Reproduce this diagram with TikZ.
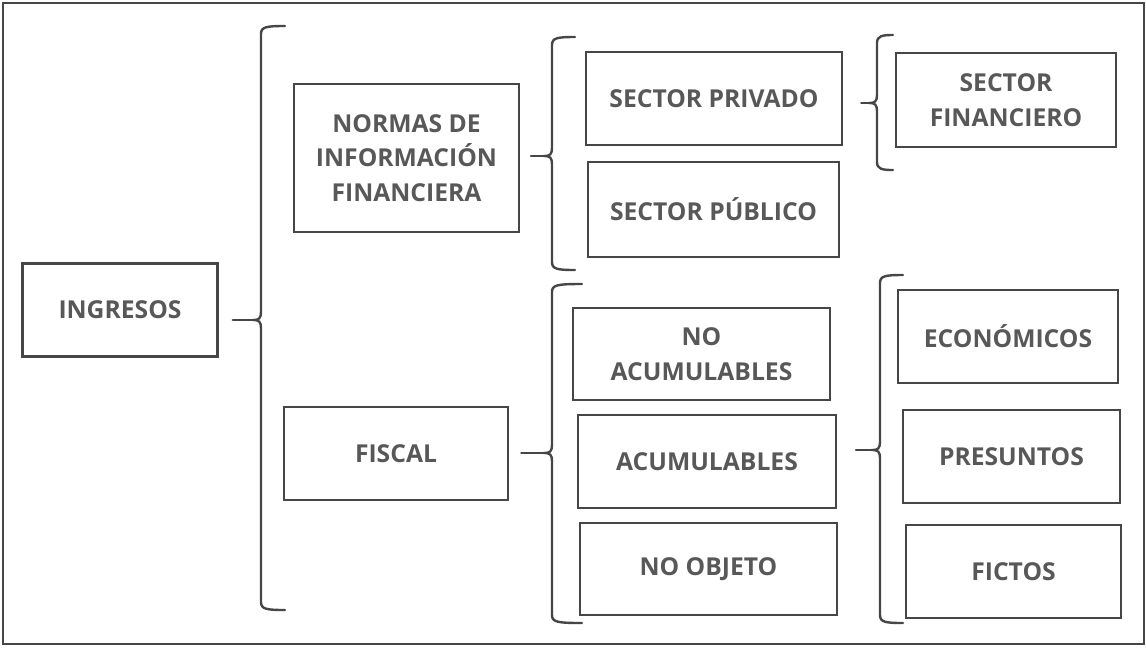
\documentclass[tikz,border=0pt]{standalone}
\usepackage{fontspec}
\setmainfont{Open Sans}

\definecolor{framegray}{RGB}{70,70,70}
\definecolor{textgray}{RGB}{88,88,88}

\tikzset{every picture/.style={line width=0.75pt}}
\tikzset{
  conceptbox/.style 2 args={draw=framegray, line width=2pt, rectangle, align=center,
    minimum width=#1*0.75pt, minimum height=#2*0.75pt, inner sep=0pt,
    text=textgray, font=\fontsize{18.5}{26}\selectfont\bfseries},
  bracket/.style={draw=framegray, line width=1.8pt, line cap=round}
}

% curly bracket: name, x, top, middle, bottom, tip length
\newcommand{\drawbracket}[6]{%
  \draw [bracket] (#2+#6,#3) .. controls (#2+5,#3) and (#2,#3+1) .. (#2,#3+8) -- (#2,#4-8) .. controls (#2,#4-2) and (#2-2,#4) .. (#2-7,#4) .. controls (#2-2,#4) and (#2,#4+2) .. (#2,#4+8) -- (#2,#5-8) .. controls (#2,#5-1) and (#2+5,#5) .. (#2+#6,#5) ;
  \coordinate (#1) at (#2-7,#4);
}

\begin{document}
\begin{tikzpicture}[x=0.75pt,y=0.75pt,yscale=-1,xscale=1]
\useasboundingbox (0,0) rectangle (1146,647);

%Outer frame
\draw [draw=framegray, line width=1.8pt] (3,3) rectangle (1144,644);

% Boxes
\node [conceptbox={195}{93}] (ingresos) at (120,310) {INGRESOS};
\node [conceptbox={225}{148}] (normas) at (406.5,158) {NORMAS DE\\INFORMACIÓN\\FINANCIERA};
\node [conceptbox={224}{93}] (fiscal) at (396,453.5) {FISCAL};
\node [conceptbox={256}{93}] (privado) at (714,98.5) {SECTOR PRIVADO};
\node [conceptbox={251}{95}] (publico) at (713.5,209.5) {SECTOR PÚBLICO};
\node [conceptbox={220}{94}] (financiero) at (1006,100) {SECTOR\\FINANCIERO};
\node [conceptbox={257}{92}] (noacum) at (701.5,354) {NO\\ACUMULABLES};
\node [conceptbox={258}{93}] (acum) at (707,461.5) {ACUMULABLES};
\node [conceptbox={257}{92}] (noobjeto) at (708.5,569) {NO OBJETO};
\node [conceptbox={220}{93}] (economicos) at (1008,336.5) {ECONÓMICOS};
\node [conceptbox={217}{93}] (presuntos) at (1011.5,456.5) {PRESUNTOS};
\node [conceptbox={215}{93}] (fictos) at (1013.5,571.5) {FICTOS};

% Brackets
\drawbracket{b1}{261}{26}{320}{610}{24}
\drawbracket{b2}{552}{37}{156}{270}{23}
\drawbracket{b3}{877}{35}{103}{170}{16}
\drawbracket{b4}{552}{284}{453}{623}{30}
\drawbracket{b5}{880}{275}{450}{623}{23}

% Stems
\draw [bracket, shorten <=10.5pt] (ingresos.east |- b1) -- (b1) ;
\draw [bracket, shorten <=8pt] (normas.east |- b2) -- (b2) ;
\draw [bracket, shorten <=13.5pt] (privado.east |- b3) -- (b3) ;
\draw [bracket, shorten <=9pt] (fiscal.east |- b4) -- (b4) ;
\draw [bracket, shorten <=14pt] (acum.east |- b5) -- (b5) ;

\end{tikzpicture}
\end{document}
